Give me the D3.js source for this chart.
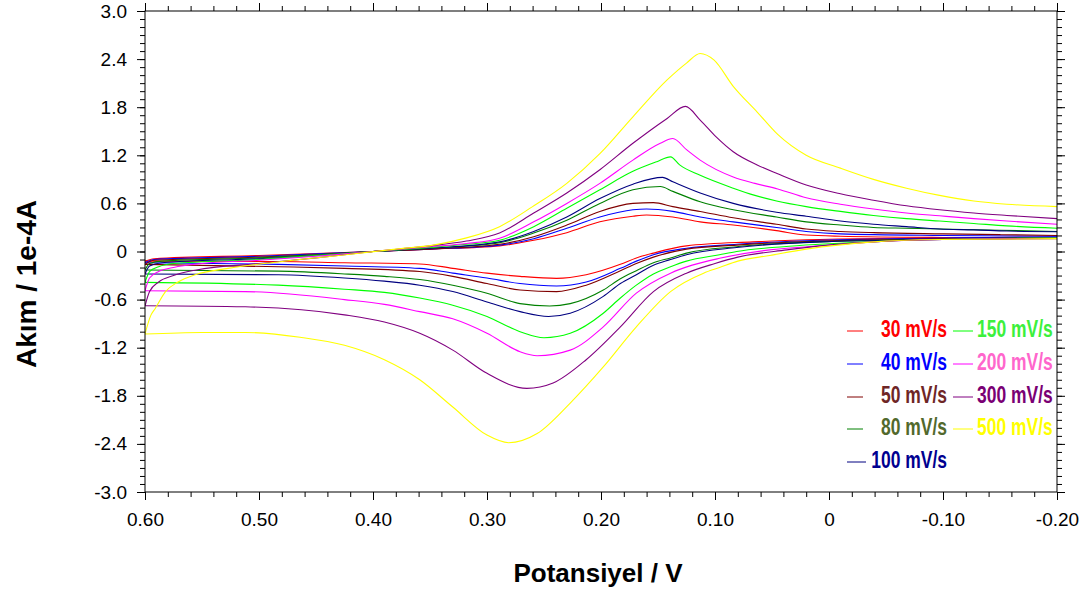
<!DOCTYPE html>
<html>
<head>
<meta charset="utf-8">
<script src="https://cdn.jsdelivr.net/npm/d3@7"></script>
<style>
  html, body { margin: 0; padding: 0; background: #fff; }
  svg { display: block; }
  text { font-family: "Liberation Sans", Arial, sans-serif; }
</style>
</head>
<body>
<svg id="chart" width="1086" height="596"></svg>
<script>
// Cyclic voltammograms at several scan rates. Potential in V, current in 1e-4 A.
const scanRates = ["30 mV/s", "40 mV/s", "50 mV/s", "80 mV/s", "100 mV/s",
                   "150 mV/s", "200 mV/s", "300 mV/s", "500 mV/s"];
const lineColors = ["#ff0000", "#0000ff", "#800000", "#008000", "#000080",
                    "#00ff00", "#ff00ff", "#800080", "#ffff00"];
const textColors = ["#ff0000", "#0000ff", "#6e2626", "#52692c", "#000090",
                    "#3cf03c", "#ff66cc", "#7a0074", "#ffff00"];

const xTickValues = [0.6, 0.5, 0.4, 0.3, 0.2, 0.1, 0, -0.1, -0.2];
const xTickLabels = ["0.60", "0.50", "0.40", "0.30", "0.20", "0.10", "0", "-0.10", "-0.20"];
const yTickValues = [3.0, 2.4, 1.8, 1.2, 0.6, 0, -0.6, -1.2, -1.8, -2.4, -3.0];
const yTickLabels = ["3.0", "2.4", "1.8", "1.2", "0.6", "0", "-0.6", "-1.2", "-1.8", "-2.4", "-3.0"];

// Forward sweep (0.60 V -> -0.20 V), [potential, current]
const anodic30 = [[0.600,-0.12],[0.592,-0.09],[0.500,-0.05],[0.400,0.00],[0.350,0.03],[0.289,0.07],[0.259,0.14],[0.230,0.235],[0.201,0.37],[0.172,0.44],[0.160,0.455],[0.137,0.43],[0.113,0.37],[0.084,0.33],[0.046,0.26],[0.020,0.205],[-0.010,0.19],[-0.100,0.175],[-0.200,0.17]];
const anodic40 = [[0.600,-0.14],[0.592,-0.10],[0.500,-0.06],[0.400,0.00],[0.350,0.03],[0.289,0.08],[0.259,0.16],[0.230,0.29],[0.201,0.43],[0.172,0.52],[0.160,0.53],[0.137,0.50],[0.113,0.43],[0.084,0.37],[0.046,0.30],[0.020,0.25],[-0.010,0.22],[-0.100,0.20],[-0.200,0.19]];
const anodic50 = [[0.600,-0.16],[0.592,-0.11],[0.500,-0.07],[0.450,-0.04],[0.400,0.00],[0.350,0.03],[0.289,0.09],[0.259,0.185],[0.230,0.33],[0.201,0.50],[0.172,0.60],[0.154,0.61],[0.137,0.56],[0.113,0.50],[0.084,0.42],[0.046,0.34],[0.020,0.28],[-0.010,0.25],[-0.039,0.235],[-0.100,0.22],[-0.150,0.21],[-0.200,0.20]];
const anodic80 = [[0.600,-0.23],[0.596,-0.15],[0.585,-0.12],[0.500,-0.08],[0.450,-0.04],[0.400,0.00],[0.350,0.04],[0.289,0.11],[0.259,0.23],[0.230,0.39],[0.201,0.60],[0.172,0.77],[0.148,0.81],[0.137,0.75],[0.113,0.62],[0.084,0.52],[0.046,0.43],[0.020,0.37],[-0.010,0.33],[-0.039,0.30],[-0.068,0.29],[-0.097,0.28],[-0.150,0.265],[-0.200,0.25]];
const anodic100 = [[0.600,-0.28],[0.596,-0.18],[0.585,-0.14],[0.500,-0.09],[0.450,-0.05],[0.400,0.00],[0.350,0.04],[0.289,0.12],[0.259,0.25],[0.230,0.43],[0.201,0.66],[0.172,0.84],[0.146,0.925],[0.137,0.87],[0.113,0.73],[0.084,0.60],[0.046,0.49],[0.020,0.44],[-0.010,0.38],[-0.039,0.34],[-0.068,0.31],[-0.097,0.28],[-0.127,0.27],[-0.156,0.255],[-0.200,0.247]];
const anodic150 = [[0.600,-0.385],[0.596,-0.25],[0.588,-0.19],[0.575,-0.15],[0.500,-0.10],[0.450,-0.05],[0.400,0.00],[0.350,0.05],[0.318,0.09],[0.289,0.14],[0.259,0.31],[0.230,0.54],[0.201,0.77],[0.172,1.00],[0.151,1.12],[0.139,1.18],[0.131,1.08],[0.113,0.95],[0.084,0.79],[0.065,0.70],[0.046,0.63],[0.020,0.56],[-0.010,0.50],[-0.039,0.45],[-0.068,0.41],[-0.097,0.38],[-0.127,0.35],[-0.156,0.32],[-0.200,0.29]];
const anodic200 = [[0.600,-0.49],[0.596,-0.33],[0.588,-0.25],[0.575,-0.20],[0.550,-0.15],[0.500,-0.11],[0.450,-0.06],[0.400,0.00],[0.350,0.06],[0.318,0.10],[0.289,0.165],[0.259,0.37],[0.230,0.60],[0.201,0.85],[0.172,1.14],[0.148,1.35],[0.137,1.41],[0.125,1.27],[0.113,1.14],[0.084,0.93],[0.065,0.85],[0.045,0.78],[0.020,0.67],[-0.010,0.59],[-0.039,0.53],[-0.068,0.48],[-0.097,0.445],[-0.127,0.41],[-0.156,0.38],[-0.200,0.34]];
const anodic300 = [[0.600,-0.68],[0.596,-0.50],[0.588,-0.38],[0.575,-0.30],[0.555,-0.23],[0.500,-0.15],[0.450,-0.08],[0.400,0.00],[0.350,0.07],[0.318,0.13],[0.289,0.23],[0.259,0.48],[0.230,0.73],[0.201,1.02],[0.172,1.35],[0.142,1.66],[0.126,1.81],[0.113,1.64],[0.099,1.43],[0.084,1.245],[0.063,1.08],[0.045,0.97],[0.020,0.83],[-0.010,0.72],[-0.039,0.64],[-0.068,0.57],[-0.097,0.52],[-0.127,0.48],[-0.156,0.45],[-0.200,0.41]];
const anodic500 = [[0.600,-1.03],[0.595,-0.80],[0.591,-0.71],[0.582,-0.50],[0.571,-0.38],[0.556,-0.29],[0.527,-0.21],[0.483,-0.13],[0.424,-0.04],[0.380,0.03],[0.347,0.08],[0.318,0.17],[0.289,0.31],[0.260,0.56],[0.230,0.85],[0.201,1.22],[0.172,1.68],[0.142,2.14],[0.125,2.35],[0.113,2.47],[0.101,2.39],[0.084,2.06],[0.063,1.74],[0.045,1.46],[0.020,1.20],[-0.010,1.04],[-0.039,0.90],[-0.068,0.79],[-0.097,0.70],[-0.127,0.63],[-0.156,0.59],[-0.200,0.56]];

// Reverse sweep (-0.20 V -> 0.60 V), listed from 0.60 V down, [potential, current]
const cathodic30 = [[0.600,-0.12],[0.483,-0.125],[0.425,-0.14],[0.359,-0.155],[0.330,-0.21],[0.300,-0.27],[0.271,-0.31],[0.239,-0.335],[0.213,-0.29],[0.183,-0.16],[0.169,-0.08],[0.154,-0.02],[0.125,0.07],[0.067,0.12],[0.008,0.15],[-0.200,0.18]];
const cathodic40 = [[0.600,-0.14],[0.483,-0.16],[0.425,-0.18],[0.359,-0.21],[0.330,-0.27],[0.300,-0.33],[0.271,-0.40],[0.239,-0.43],[0.213,-0.38],[0.183,-0.21],[0.169,-0.12],[0.154,-0.04],[0.125,0.04],[0.081,0.09],[0.008,0.14],[-0.200,0.18]];
const cathodic50 = [[0.600,-0.16],[0.483,-0.19],[0.425,-0.21],[0.359,-0.25],[0.330,-0.31],[0.300,-0.40],[0.271,-0.48],[0.239,-0.50],[0.213,-0.42],[0.183,-0.24],[0.169,-0.15],[0.154,-0.07],[0.125,0.03],[0.081,0.08],[0.008,0.13],[-0.200,0.17]];
const cathodic80 = [[0.600,-0.23],[0.483,-0.245],[0.425,-0.28],[0.390,-0.31],[0.359,-0.35],[0.330,-0.42],[0.300,-0.52],[0.271,-0.65],[0.245,-0.68],[0.227,-0.65],[0.198,-0.48],[0.183,-0.34],[0.169,-0.24],[0.154,-0.14],[0.139,-0.08],[0.125,-0.02],[0.081,0.06],[0.008,0.12],[-0.200,0.17]];
const cathodic100 = [[0.600,-0.28],[0.483,-0.29],[0.425,-0.33],[0.390,-0.37],[0.359,-0.42],[0.330,-0.50],[0.300,-0.63],[0.271,-0.75],[0.246,-0.81],[0.227,-0.77],[0.198,-0.56],[0.183,-0.40],[0.169,-0.29],[0.154,-0.17],[0.139,-0.10],[0.125,-0.04],[0.081,0.05],[0.008,0.12],[-0.100,0.15],[-0.200,0.17]];
const cathodic150 = [[0.600,-0.385],[0.483,-0.42],[0.425,-0.47],[0.390,-0.51],[0.359,-0.58],[0.330,-0.67],[0.300,-0.81],[0.271,-1.00],[0.250,-1.075],[0.227,-1.02],[0.198,-0.77],[0.183,-0.58],[0.169,-0.42],[0.154,-0.28],[0.139,-0.19],[0.125,-0.12],[0.096,-0.04],[0.081,0.00],[0.040,0.06],[0.008,0.09],[-0.050,0.13],[-0.200,0.17]];
const cathodic200 = [[0.600,-0.49],[0.512,-0.50],[0.425,-0.60],[0.390,-0.66],[0.359,-0.75],[0.330,-0.84],[0.300,-1.02],[0.271,-1.25],[0.256,-1.30],[0.227,-1.23],[0.198,-0.94],[0.169,-0.52],[0.139,-0.27],[0.120,-0.17],[0.096,-0.085],[0.052,0.02],[0.008,0.07],[-0.039,0.12],[-0.100,0.15],[-0.200,0.165]];
const cathodic300 = [[0.600,-0.676],[0.512,-0.69],[0.425,-0.79],[0.390,-0.88],[0.359,-1.02],[0.330,-1.23],[0.300,-1.52],[0.265,-1.707],[0.242,-1.64],[0.213,-1.35],[0.183,-0.94],[0.154,-0.50],[0.125,-0.27],[0.100,-0.15],[0.080,-0.07],[0.037,0.02],[0.008,0.07],[-0.039,0.12],[-0.100,0.15],[-0.200,0.16]];
const cathodic500 = [[0.600,-1.03],[0.550,-1.01],[0.512,-1.01],[0.464,-1.07],[0.425,-1.17],[0.390,-1.35],[0.359,-1.60],[0.330,-1.94],[0.300,-2.29],[0.281,-2.385],[0.256,-2.27],[0.227,-1.89],[0.198,-1.44],[0.169,-0.94],[0.139,-0.50],[0.110,-0.27],[0.096,-0.20],[0.080,-0.12],[0.052,-0.05],[0.020,0.03],[-0.039,0.12],[-0.097,0.15],[-0.200,0.16]];

const forwardSweeps = [anodic30, anodic40, anodic50, anodic80, anodic100, anodic150, anodic200, anodic300, anodic500];
const reverseSweeps = [cathodic30, cathodic40, cathodic50, cathodic80, cathodic100, cathodic150, cathodic200, cathodic300, cathodic500];

const svg = d3.select("#chart");
const plot = { left: 145, right: 1057, top: 11, bottom: 492 };

const x = d3.scaleLinear().domain([0.6, -0.2]).range([plot.left, plot.right]);
const y = d3.scaleLinear().domain([-3, 3]).range([plot.bottom, plot.top]);

const xMinor = d3.range(0, 41).map(i => +(0.6 - i * 0.02).toFixed(2));
const yMinor = d3.range(0, 61).map(i => +(3 - i * 0.1).toFixed(1));

// Curves, clipped to the frame
svg.append("clipPath").attr("id", "frame")
  .append("rect")
  .attr("x", plot.left).attr("y", plot.top)
  .attr("width", plot.right - plot.left).attr("height", plot.bottom - plot.top);

const line = d3.line()
  .x(d => x(d[0]))
  .y(d => y(d[1]))
  .curve(d3.curveMonotoneX);

const curves = svg.append("g").attr("clip-path", "url(#frame)");
scanRates.forEach((rate, i) => {
  [forwardSweeps[i], reverseSweeps[i]].forEach(branch => {
    curves.append("path")
      .datum(branch.slice().sort((a, b) => b[0] - a[0]))
      .attr("d", line)
      .attr("fill", "none")
      .attr("stroke", lineColors[i])
      .attr("stroke-width", 1.1);
  });
});

// Frame
svg.append("rect")
  .attr("x", plot.left).attr("y", plot.top)
  .attr("width", plot.right - plot.left).attr("height", plot.bottom - plot.top)
  .attr("fill", "none").attr("stroke", "#000").attr("stroke-width", 1);

function styleAxis(g) {
  g.select(".domain").remove();
  g.selectAll("line").attr("stroke", "#000");
}

// Minor ticks on all four sides
const minorSize = 5, majorSize = 8;
svg.append("g").attr("transform", `translate(0,${plot.bottom})`)
  .call(d3.axisBottom(x).tickValues(xMinor).tickSize(minorSize).tickFormat(""))
  .call(styleAxis);
svg.append("g").attr("transform", `translate(0,${plot.top})`)
  .call(d3.axisTop(x).tickValues(xMinor).tickSize(minorSize).tickFormat(""))
  .call(styleAxis);
svg.append("g").attr("transform", `translate(${plot.left},0)`)
  .call(d3.axisLeft(y).tickValues(yMinor).tickSize(minorSize).tickFormat(""))
  .call(styleAxis);
svg.append("g").attr("transform", `translate(${plot.right},0)`)
  .call(d3.axisRight(y).tickValues(yMinor).tickSize(minorSize).tickFormat(""))
  .call(styleAxis);

// Major ticks with labels
const xAxis = svg.append("g").attr("transform", `translate(0,${plot.bottom})`)
  .call(d3.axisBottom(x).tickValues(xTickValues).tickSize(majorSize).tickPadding(13)
    .tickFormat((d, i) => xTickLabels[i]))
  .call(styleAxis);
svg.append("g").attr("transform", `translate(0,${plot.top})`)
  .call(d3.axisTop(x).tickValues(xTickValues).tickSize(majorSize).tickFormat(""))
  .call(styleAxis);
const yAxis = svg.append("g").attr("transform", `translate(${plot.left},0)`)
  .call(d3.axisLeft(y).tickValues(yTickValues).tickSize(majorSize).tickPadding(10)
    .tickFormat((d, i) => yTickLabels[i]))
  .call(styleAxis);
svg.append("g").attr("transform", `translate(${plot.right},0)`)
  .call(d3.axisRight(y).tickValues(yTickValues).tickSize(majorSize).tickFormat(""))
  .call(styleAxis);

[xAxis, yAxis].forEach(a => a.selectAll("text")
  .attr("font-family", "'Liberation Sans', Arial, sans-serif")
  .attr("font-size", 19)
  .attr("fill", "#000"));

// Axis titles
svg.append("text")
  .attr("x", 598).attr("y", 582)
  .attr("text-anchor", "middle")
  .attr("font-size", 26).attr("font-weight", "bold")
  .text("Potansiyel / V");

svg.append("text")
  .attr("transform", "translate(36,284) rotate(-90)")
  .attr("text-anchor", "middle")
  .attr("font-size", 28).attr("font-weight", "bold")
  .text("Akım / 1e-4A");

// Legend: two columns
const legend = svg.append("g");
const rowY = [331, 364, 397, 429, 462];
scanRates.forEach((rate, i) => {
  const col = i < 5 ? 0 : 1;
  const row = col === 0 ? i : i - 5;
  const yy = rowY[row];
  const lx = col === 0 ? 847 : 953;
  const lw = col === 0 ? (i === 4 ? 19 : 16) : 20;
  legend.append("line")
    .attr("x1", lx).attr("x2", lx + lw)
    .attr("y1", yy).attr("y2", yy)
    .attr("stroke", lineColors[i]).attr("stroke-width", 1);
  const tx = col === 0 ? 947 : 977;
  legend.append("text")
    .attr("transform", `translate(${tx},${yy + 6}) scale(0.76,1)`)
    .attr("text-anchor", col === 0 ? "end" : "start")
    .attr("font-size", 23).attr("font-weight", "bold")
    .attr("fill", textColors[i])
    .text(rate);
});
</script>
</body>
</html>
